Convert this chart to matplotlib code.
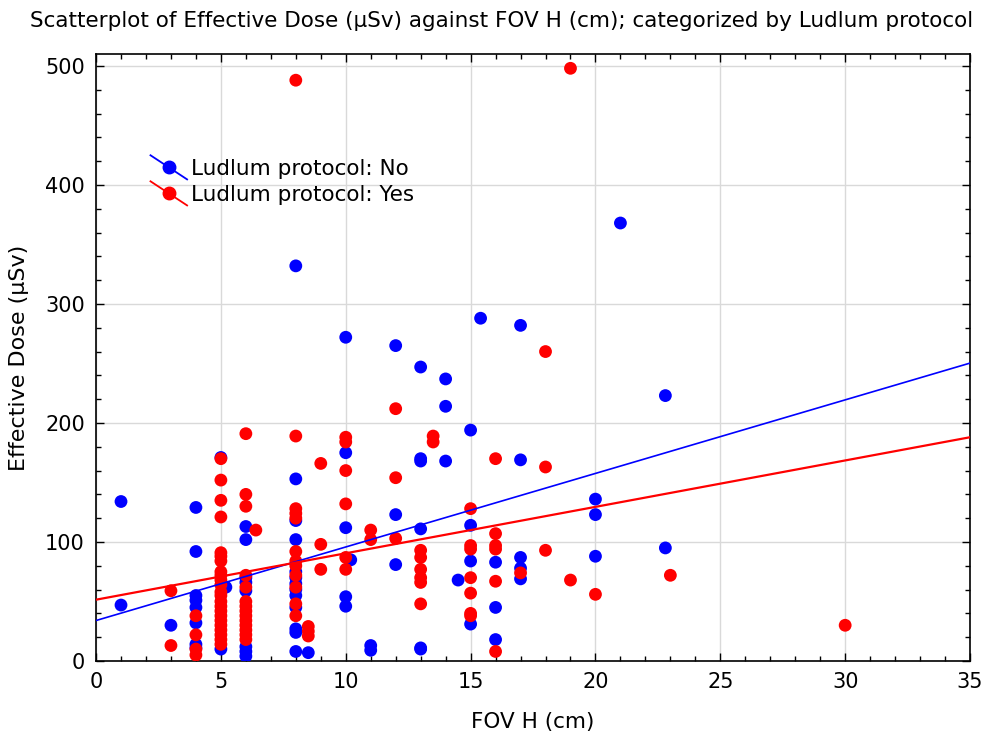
import numpy as np
import matplotlib
matplotlib.use("Agg")
import matplotlib.pyplot as plt
from matplotlib.lines import Line2D
from matplotlib.legend_handler import HandlerLine2D
from matplotlib.ticker import MultipleLocator

# Data: Ludlum protocol = No (blue)
no_x = [1, 1, 3,
        4, 4, 4, 4, 4, 4, 4, 4,
        5, 5.2, 5,
        6, 6, 6, 6, 6, 6, 6, 6,
        8, 8, 8, 8, 8, 8, 8, 8, 8, 8, 8, 8, 8,
        8.5,
        10, 10, 10, 10, 10, 10.2,
        11, 11,
        12, 12, 12,
        13, 13, 13, 13, 13, 13,
        14, 14, 14, 14.5,
        15, 15, 15, 15, 15.4,
        16, 16, 16,
        17, 17, 17, 17, 17,
        20, 20, 20, 21, 22.8, 22.8]
no_y = [134, 47, 30,
        129, 92, 55, 51, 45, 32, 14, 11,
        171, 62, 10,
        113, 102, 70, 66, 59, 12, 8, 4,
        332, 153, 118, 102, 75, 70, 65, 60, 55, 45, 27, 24, 8,
        7,
        272, 175, 112, 54, 46, 85,
        13, 9,
        265, 123, 81,
        247, 170, 168, 111, 11, 10,
        237, 214, 168, 68,
        194, 114, 84, 31, 288,
        83, 45, 18,
        282, 169, 87, 78, 69,
        136, 123, 88, 368, 223, 95]

# Ludlum protocol = Yes (red)
yes_x = [3, 3,
         4, 4, 4, 4,
         5, 5, 5, 5, 5, 5, 5, 5, 5, 5, 5, 5, 5, 5, 5, 5, 5, 5, 5, 5, 5, 5, 5,
         6, 6, 6, 6, 6, 6, 6, 6, 6, 6, 6, 6, 6, 6, 6.4,
         8, 8, 8, 8, 8, 8, 8, 8, 8, 8, 8, 8,
         8.5, 8.5, 8.5,
         9, 9, 9,
         10, 10, 10, 10, 10, 10,
         11, 11,
         12, 12, 12,
         13, 13, 13, 13, 13, 13, 13.5, 13.5,
         15, 15, 15, 15, 15, 15, 15,
         16, 16, 16, 16, 16, 16,
         17, 18, 18, 18, 19, 19, 20, 23, 30]
yes_y = [59, 13,
         38, 22, 10, 5,
         170, 152, 135, 121, 91, 88, 84, 75, 72, 68, 64, 58, 55, 50, 46, 42, 38,
         34, 30, 26, 22, 18, 14,
         191, 140, 130, 72, 62, 50, 46, 42, 38, 34, 30, 26, 22, 18, 110,
         488, 189, 128, 124, 120, 92, 84, 80, 72, 62, 48, 38,
         29, 25, 21,
         166, 98, 77,
         188, 184, 160, 132, 87, 77,
         110, 102,
         212, 154, 103,
         93, 87, 77, 70, 66, 48, 189, 184,
         128, 97, 94, 70, 57, 40, 38,
         170, 107, 97, 94, 67, 8,
         74, 260, 163, 93, 498, 68, 56, 72, 30]

# regression lines (intercept, slope)
fit_no = (34.0, 6.18)
fit_yes = (51.5, 3.9)

labels = ["Ludlum protocol: No", "Ludlum protocol: Yes"]
colors = ["#0000ff", "#ff0000"]
title = "Scatterplot of Effective Dose (µSv) against FOV H (cm); categorized by Ludlum protocol"


class DiagonalHandler(HandlerLine2D):
    # legend icon: short falling line with a dot in the middle
    def create_artists(self, legend, orig_handle, xdescent, ydescent,
                       width, height, fontsize, trans):
        line = Line2D([-xdescent, -xdescent + width],
                      [height + 0.3 * height, -0.3 * height],
                      color=orig_handle.get_color(), lw=1.3, transform=trans)
        dot = Line2D([-xdescent + width / 2], [height / 2], marker="o",
                     markersize=9, color=orig_handle.get_color(),
                     linestyle="none", transform=trans)
        return [line, dot]


fig = plt.figure(figsize=(9.87, 7.35), dpi=100)
ax = fig.add_axes([0.0973, 0.1007, 0.8855, 0.8258])

ax.scatter(no_x, no_y, s=85, color=colors[0], edgecolors="none", zorder=3)
ax.scatter(yes_x, yes_y, s=85, color=colors[1], edgecolors="none", zorder=3)

xs = np.array([0, 35])
h1, = ax.plot(xs, fit_no[0] + fit_no[1] * xs, color=colors[0], lw=1.2, zorder=4)
h2, = ax.plot(xs, fit_yes[0] + fit_yes[1] * xs, color=colors[1], lw=1.6, zorder=4)

ax.set_xlim(0, 35)
ax.set_ylim(0, 510)
ax.xaxis.set_major_locator(MultipleLocator(5))
ax.xaxis.set_minor_locator(MultipleLocator(1))
ax.yaxis.set_major_locator(MultipleLocator(100))
ax.yaxis.set_minor_locator(MultipleLocator(20))
ax.tick_params(which="both", direction="in", top=True, right=True,
               labelsize=15, width=1, pad=8)
ax.tick_params(which="major", length=6)
ax.tick_params(which="minor", length=3.5)
ax.grid(True, which="major", color="#d9d9d9", lw=1)
ax.set_axisbelow(True)
for sp in ax.spines.values():
    sp.set_linewidth(1.2)

ax.set_xlabel("FOV H (cm)", fontsize=15.5, labelpad=14)
ax.set_ylabel("Effective Dose (µSv)", fontsize=16, labelpad=12)
fig.text(0.508, 1 - 27 / 735, title, fontsize=15.5, ha="center", va="baseline")

ax.legend([h1, h2], labels, loc="upper left", bbox_to_anchor=(0.05, 0.845),
          frameon=False, fontsize=15.5, handlelength=1.7, handletextpad=0.2,
          labelspacing=0.28, borderpad=0,
          handler_map={Line2D: DiagonalHandler()})

fig.savefig("out.png", dpi=100)
